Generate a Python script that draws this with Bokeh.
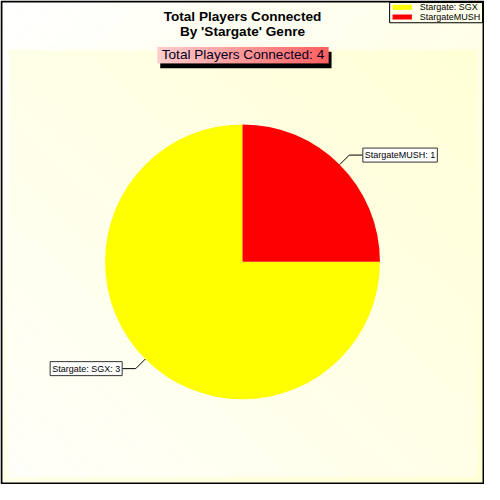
import numpy as np
from bokeh.plotting import figure
from bokeh.core.properties import value
from bokeh.embed import file_html
from bokeh.resources import INLINE

# ---- data ----
title_lines = ["Total Players Connected", "By 'Stargate' Genre"]
subtitle = "Total Players Connected: 4"
names = ["Stargate: SGX", "StargateMUSH"]
counts = [3, 1]
colors = ["#FFFF00", "#FF0000"]

W = 484
S = W / 500.0
FONT = "Liberation Sans"


def fs(px):
    return f"{px * S:.1f}px"


def Y(y):
    return 500 - y


def gradient(nx, ny, c0, c1, mode):
    ii, jj = np.meshgrid(np.arange(nx), np.arange(ny))
    u = ii / max(nx - 1, 1)          # 0 left -> 1 right
    vb = jj / max(ny - 1, 1)         # 0 bottom -> 1 top
    if mode == "outer":
        t = (u + (1 - vb)) / 2
    elif mode == "inner":
        t = (u + vb) / 2
    else:
        t = u
    c0 = np.array(c0, float)
    c1 = np.array(c1, float)
    rgb = c0[None, None, :] * (1 - t[..., None]) + c1[None, None, :] * t[..., None]
    arr = np.empty((ny, nx, 4), dtype=np.uint8)
    arr[..., :3] = np.clip(rgb, 0, 255).astype(np.uint8)
    arr[..., 3] = 255
    return arr.view(np.uint32).reshape(ny, nx)


p = figure(width=W, height=W, x_range=(0, 500), y_range=(0, 500),
           output_backend="svg", toolbar_location=None, min_border=0)
p.axis.visible = False
p.xgrid.visible = False
p.ygrid.visible = False
p.outline_line_color = None
p.background_fill_color = "#FFFFFF"
p.border_fill_color = "#FFFFFF"

# backgrounds
p.image_rgba(image=[gradient(100, 100, (255, 255, 255), (255, 255, 214), "outer")],
             x=0, y=0, dw=500, dh=500)
p.image_rgba(image=[gradient(100, 100, (255, 255, 250), (255, 255, 214), "inner")],
             x=9, y=Y(492), dw=483, dh=441)
p.quad(left=1, right=499, bottom=1, top=499, fill_color=None,
       line_color="black", line_width=2)

# titles
p.text(x=[250, 250], y=[Y(16.5), Y(32.5)], text=title_lines,
       text_font=value(FONT), text_font_size=fs(14), text_font_style="bold",
       text_align="center", text_baseline="middle", text_color="black")

# subtitle box with shadow
p.quad(left=165, right=342, top=Y(53), bottom=Y(70), fill_color="black", line_color=None)
p.image_rgba(image=[gradient(60, 2, (255, 205, 205), (255, 96, 96), "h")],
             x=162, y=Y(65), dw=177, dh=17)
p.text(x=[250.5], y=[Y(56)], text=[subtitle], text_font=value(FONT),
       text_font_size=fs(14), text_align="center", text_baseline="middle",
       text_color="#000022")

# pie
cx, cy, r = 250, Y(270), 142
vals = np.array(counts, float)
frac = vals / vals.sum()
start = np.pi / 2 + 2 * np.pi * np.concatenate([[0], np.cumsum(frac)[:-1]])
end = start + 2 * np.pi * frac
p.wedge(x=cx, y=cy, radius=r, start_angle=start, end_angle=end,
        direction="anticlock", fill_color=colors, line_color=None)

# slice labels
mid = (start + end) / 2
ex = cx + r * np.cos(mid)
ey = cy + r * np.sin(mid)
bx = cx + (r + 14) * np.cos(mid)
by = cy + (r + 14) * np.sin(mid)
side = np.where(np.cos(mid) >= 0, 1, -1)
hx = bx + 14 * side
xs = [[a, b, c] for a, b, c in zip(ex, bx, hx)]
ys = [[a, b, b] for a, b in zip(ey, by)]
p.multi_line(xs=xs, ys=ys, line_color="black", line_width=1)
label_txt = [f"{n}: {c}" for n, c in zip(names, counts)]
for i in range(len(counts)):
    p.text(x=[hx[i]], y=[by[i]], text=[label_txt[i]], text_font=value(FONT),
           text_font_size=fs(9.3), text_align="left" if side[i] > 0 else "right",
           text_baseline="middle", text_color="black",
           background_fill_color="white", border_line_color="#333333",
           border_line_width=1, padding=2)

# legend
p.quad(left=402, right=498, top=Y(2), bottom=Y(23), fill_color=None,
       line_color="black", line_width=1)
rows = np.arange(len(names))
p.quad(left=405, right=425, top=Y(4.5 + 10 * rows), bottom=Y(9.5 + 10 * rows),
       fill_color=colors, line_color=None)
p.text(x=[433] * len(names), y=Y(7 + 10 * rows), text=names,
       text_font=value(FONT), text_font_size=fs(9.3), text_align="left",
       text_baseline="middle", text_color="black")

open("out.html", "w").write(file_html(p, INLINE))
